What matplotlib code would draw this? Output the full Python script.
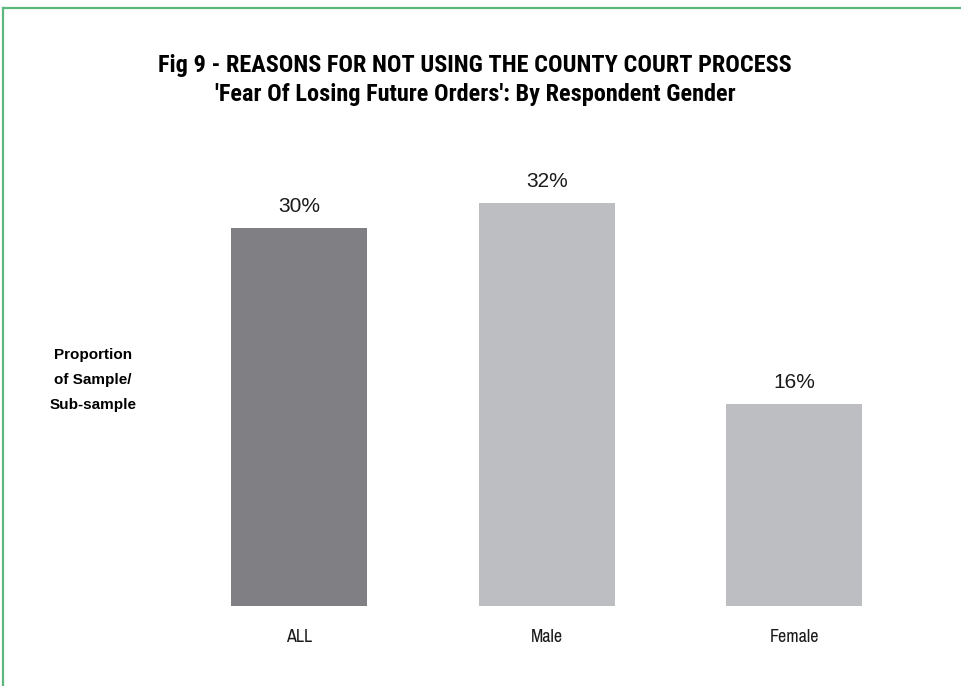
import matplotlib
matplotlib.use('Agg')
import matplotlib.pyplot as plt
from matplotlib.lines import Line2D
from matplotlib.transforms import blended_transform_factory

# survey results, fear of losing future orders
groups = ['ALL', 'Male', 'Female']
shares = [30, 32, 16]
bar_colors = ['#808084', '#bdbec2', '#bdbec2']

title_lines = ['Fig 9 - REASONS FOR NOT USING THE COUNTY COURT PROCESS',
               "'Fear Of Losing Future Orders': By Respondent Gender"]

W, H = 962, 686
fig = plt.figure(figsize=(W / 100, H / 100), dpi=100)

# pixel layout of the plotting area
px_left, px_right = 150, 900
px_top, px_base = 150, 606
unit_x = 247.75      # pixels between bar centres
unit_y = 12.6        # pixels per percentage point
first_centre = 299

ax = fig.add_axes([px_left / W, 1 - px_base / H,
                   (px_right - px_left) / W, (px_base - px_top) / H])
ax.set_xlim((px_left - first_centre) / unit_x, (px_right - first_centre) / unit_x)
ax.set_ylim(0, (px_base - px_top) / unit_y)
ax.axis('off')

xs = range(len(groups))
ax.bar(xs, shares, width=136 / unit_x, color=bar_colors)
for x, v in zip(xs, shares):
    ax.text(x, v + 16 / unit_y, f'{v}%', ha='center', va='baseline', fontsize=15,
            family='Liberation Sans', color='#1a1a1a')

trans = blended_transform_factory(ax.transData, ax.transAxes)
for x, g in zip(xs, groups):
    ax.text(x, -36 / (px_base - px_top), g, transform=trans, ha='center',
            va='baseline', fontsize=13, family='Archivo Narrow', color='#1a1a1a')

fig.text(93 / W, 1 - 380 / H, 'Proportion\nof Sample/\nSub-sample', ha='center',
         va='center', fontsize=11, fontweight='bold', family='Liberation Sans',
         linespacing=2.0)

for line, base in zip(title_lines, [72, 101]):
    fig.text(475 / W, 1 - base / H, line, ha='center', va='baseline',
             fontsize=17.5, fontweight='bold', family='Roboto Condensed')

# green frame along the top and left edges
green = '#5cb87f'
fig.add_artist(Line2D([2.5 / W, 1], [1 - 7.5 / H, 1 - 7.5 / H], color=green, lw=1.6))
fig.add_artist(Line2D([2.5 / W, 2.5 / W], [0, 1 - 7.5 / H], color=green, lw=1.6))

fig.savefig('out.png', dpi=100, facecolor='white')
